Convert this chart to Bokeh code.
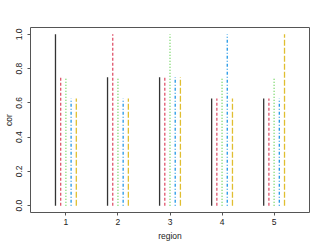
from bokeh.plotting import figure
from bokeh.models import ColumnDataSource, Range1d, FixedTicker
from bokeh.transform import dodge
from bokeh.embed import file_html
from bokeh.resources import INLINE

region = [1, 2, 3, 4, 5]
s1 = [1.0, 0.75, 0.75, 0.625, 0.625]
s2 = [0.75, 1.0, 0.75, 0.625, 0.625]
s3 = [0.75, 0.75, 1.0, 0.75, 0.75]
s4 = [0.625, 0.625, 0.75, 1.0, 0.625]
s5 = [0.625, 0.625, 0.75, 0.625, 1.0]
y_ticks = [0.0, 0.2, 0.4, 0.6, 0.8, 1.0]

src = ColumnDataSource(dict(region=region, s1=s1, s2=s2, s3=s3, s4=s4, s5=s5,
                            zero=[0] * len(region)))

FONT = "Liberation Sans"
p = figure(width=324, height=247, output_backend="svg", toolbar_location=None,
           x_range=Range1d(0.32, 5.68), y_range=Range1d(-0.04, 1.04),
           min_border_left=29, min_border_top=27, min_border_right=15, min_border_bottom=35)

styles = [
    ("s1", -0.2, "#333333", "solid"),
    ("s2", -0.1, "#DF536B", "3 2"),
    ("s3", 0.0, "#61D04F", "1 2"),
    ("s4", 0.1, "#2297E6", "1 2 3 2"),
    ("s5", 0.2, "#E0BE30", "6 2"),
]
for col, off, color, dash in styles:
    p.segment(x0=dodge("region", off), y0="zero", x1=dodge("region", off), y1=col,
              source=src, line_color=color, line_width=1.3, line_dash=dash)

p.xgrid.visible = False
p.ygrid.visible = False
p.outline_line_color = "#555555"
p.outline_line_width = 1
p.background_fill_color = "white"

p.xaxis.ticker = FixedTicker(ticks=region)
p.yaxis.ticker = FixedTicker(ticks=y_ticks)
p.yaxis.major_label_overrides = {v: f"{v:.1f}" for v in y_ticks}
p.xaxis.axis_label = "region"
p.yaxis.axis_label = "cor"
p.yaxis.major_label_orientation = "vertical"

for ax in (p.xaxis, p.yaxis):
    ax.axis_line_color = None
    ax.major_tick_in = 0
    ax.major_tick_out = 3
    ax.major_tick_line_color = "#555555"
    ax.minor_tick_line_color = None
    ax.major_label_text_font = FONT
    ax.major_label_text_font_size = "8.5px"
    ax.major_label_text_color = "#222222"
    ax.axis_label_text_font = FONT
    ax.axis_label_text_font_size = "8.5px"
    ax.axis_label_text_font_style = "normal"
    ax.axis_label_text_color = "#222222"

p.xaxis.major_label_standoff = 3
p.xaxis.axis_label_standoff = 3
p.yaxis.major_label_standoff = 5
p.yaxis.axis_label_standoff = 0

open("out.html", "w").write(file_html(p, INLINE))
